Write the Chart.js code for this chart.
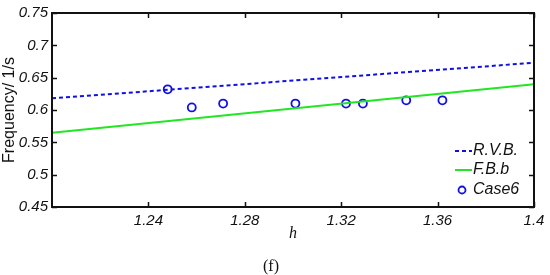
<!DOCTYPE html>
<html>
<head>
<meta charset="utf-8">
<script src="https://cdn.jsdelivr.net/npm/chart.js@4/dist/chart.umd.min.js"></script>
<style>
  html, body { margin: 0; padding: 0; background: #fff; }
  #wrap { width: 550px; height: 275px; }
</style>
</head>
<body>
<div id="wrap"><canvas id="myChart" width="550" height="275"></canvas></div>
<script>
'use strict';

// datos
const xRange = [1.2, 1.4];
const rvbValues = [0.618, 0.673];   // R.V.B. (recta)
const fbbValues = [0.565, 0.640];   // F.B.b (recta)
const caseH = [1.248, 1.258, 1.271, 1.301, 1.322, 1.329, 1.347, 1.362];
const caseFreq = [0.632, 0.604, 0.610, 0.610, 0.610, 0.610, 0.615, 0.615];
const xTicks = [1.24, 1.28, 1.32, 1.36, 1.4];
const yTicks = [0.45, 0.5, 0.55, 0.6, 0.65, 0.7, 0.75];

const BLUE = '#1010e6';
const GREEN = '#22e622';
const tickFont = { family: 'Liberation Sans, Arial', size: 15, style: 'italic' };

// Marco con ticks hacia adentro
const framePlugin = {
  id: 'frame',
  afterDraw(chart) {
    const { ctx, chartArea: a, scales } = chart;
    ctx.save();
    ctx.strokeStyle = '#111';
    ctx.lineWidth = 2;
    ctx.strokeRect(a.left, a.top, a.right - a.left, a.bottom - a.top);
    ctx.lineWidth = 1.5;
    ctx.beginPath();
    xTicks.forEach(v => {
      const px = Math.round(scales.x.getPixelForValue(v)) + 0.5;
      ctx.moveTo(px, a.bottom); ctx.lineTo(px, a.bottom - 5);
      ctx.moveTo(px, a.top); ctx.lineTo(px, a.top + 5);
    });
    yTicks.forEach(v => {
      const py = Math.round(scales.y.getPixelForValue(v)) + 0.5;
      ctx.moveTo(a.left, py); ctx.lineTo(a.left + 5, py);
      ctx.moveTo(a.right, py); ctx.lineTo(a.right - 5, py);
    });
    ctx.stroke();
    ctx.restore();
  }
};

// Leyenda dentro del area, abajo a la derecha
const legendPlugin = {
  id: 'miLeyenda',
  afterDraw(chart) {
    const { ctx, chartArea: a } = chart;
    const tx = a.right - 61;
    const rows = [a.bottom - 56, a.bottom - 37, a.bottom - 17];
    ctx.save();
    ctx.font = 'italic 16px "Liberation Sans", Arial';
    ctx.textBaseline = 'middle';
    ctx.fillStyle = '#111';
    chart.data.datasets.forEach((ds, i) => {
      const y = rows[i];
      ctx.strokeStyle = ds.borderColor;
      ctx.lineWidth = 2;
      if (ds.showLine === false) {
        ctx.lineWidth = 1.8;
        ctx.beginPath();
        ctx.arc(tx - 11, y, 3.5, 0, Math.PI * 2);
        ctx.stroke();
      } else {
        ctx.setLineDash(ds.borderDash || []);
        ctx.beginPath();
        ctx.moveTo(tx - 18, y); ctx.lineTo(tx - 1, y);
        ctx.stroke();
        ctx.setLineDash([]);
      }
      ctx.fillText(ds.label, tx, y);
    });
    ctx.restore();
  }
};

const ctx = document.getElementById('myChart').getContext('2d');
const myChart = new Chart(ctx, {
  type: 'scatter',
  data: {
    datasets: [{
      label: 'R.V.B.',
      data: xRange.map((x, i) => ({ x: x, y: rvbValues[i] })),
      showLine: true,
      borderColor: BLUE,
      borderWidth: 2,
      borderDash: [4, 3],
      pointRadius: 0
    }, {
      label: 'F.B.b',
      data: xRange.map((x, i) => ({ x: x, y: fbbValues[i] })),
      showLine: true,
      borderColor: GREEN,
      borderWidth: 2,
      pointRadius: 0
    }, {
      label: 'Case6',
      data: caseH.map((h, i) => ({ x: h, y: caseFreq[i] })),
      showLine: false,
      borderColor: BLUE,
      backgroundColor: 'rgba(0,0,0,0)',
      borderWidth: 1.8,
      pointRadius: 4
    }]
  },
  options: {
    responsive: false,
    animation: false,
    layout: { padding: { top: 12, right: 16, left: 0, bottom: 0 } },
    plugins: {
      legend: { display: false },
      tooltip: { enabled: false },
      title: {
        display: true,
        text: '\u2002(f)',
        position: 'bottom',
        color: '#111',
        font: { family: 'Liberation Serif, Times New Roman', size: 16, weight: 'normal', lineHeight: 1 },
        padding: { top: 16, bottom: 0 }
      }
    },
    scales: {
      x: {
        type: 'linear',
        min: xRange[0],
        max: xRange[1],
        afterBuildTicks: scale => { scale.ticks = xTicks.map(v => ({ value: v })); },
        afterFit: scale => { scale.height = 36; },
        grid: { display: false, drawTicks: false },
        border: { display: false },
        ticks: {
          color: '#111',
          font: tickFont,
          padding: 5,
          maxRotation: 0,
          callback: v => String(+v.toFixed(2))
        },
        title: {
          display: true,
          text: 'h',
          color: '#111',
          font: { family: 'Liberation Serif, Times New Roman', size: 16, style: 'italic' },
          padding: { top: 0, bottom: 0 }
        }
      },
      y: {
        min: 0.45,
        max: 0.75,
        afterBuildTicks: scale => { scale.ticks = yTicks.map(v => ({ value: v })); },
        afterFit: scale => { scale.width = 52; },
        grid: { display: false, drawTicks: false },
        border: { display: false },
        ticks: {
          color: '#111',
          font: tickFont,
          padding: 4,
          callback: v => String(+v.toFixed(2))
        },
        title: {
          display: true,
          text: 'Frequency/ 1/s',
          color: '#111',
          font: { family: 'Liberation Sans, Arial', size: 16 },
          padding: { top: 0, bottom: 0 }
        }
      }
    }
  },
  plugins: [framePlugin, legendPlugin]
});
</script>
</body>
</html>
